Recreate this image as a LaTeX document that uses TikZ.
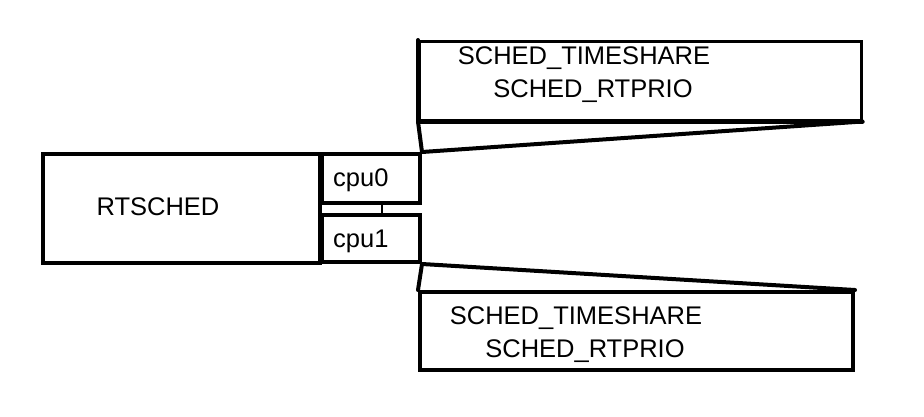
\documentclass[tikz,border=0pt]{standalone}
\usepackage{fontspec}
\setmainfont{Liberation Sans}
\begin{document}
\begin{tikzpicture}[x=1pt,y=-1pt,
  box/.style={draw=black,line width=4pt,inner sep=0pt,line join=miter},
  thinbox/.style={draw=black,line width=2.5pt,inner sep=0pt},
  lbl/.style={inner sep=0pt,font=\fontsize{25.5}{30}\selectfont},
  edge/.style={draw=black,line width=4pt,line cap=round},
  thin/.style={draw=black,line width=2pt}]
\useasboundingbox (0,0) rectangle (924,416);
% boxes
\node[box,minimum width=277pt,minimum height=109pt,anchor=north west] (rt) at (41,152) {};
\node[box,minimum width=98pt,minimum height=49pt,anchor=north west] (cpu0) at (320,152) {};
\node[box,minimum width=98pt,minimum height=47pt,anchor=north west] (cpu1) at (320,213) {};
\node[thinbox,minimum width=442pt,minimum height=79pt,anchor=north west] (up) at (418,40) {};
\node[box,minimum width=433pt,minimum height=78pt,anchor=north west] (lo) at (418,290) {};
% thicker edges
\draw[edge] (up.south west) -- (up.south east);
\draw[edge] (up.north west) -- (up.south west);
% texts
\node[lbl] (trt) at (158,207) {RTSCHED};
\node[lbl,anchor=west] (tc0) at (333,180) {cpu0};
\node[lbl,anchor=west] (tc1) at (333,241) {cpu1};
\node[lbl] (tu1) at (584,58) {SCHED\_TIMESHARE};
\node[lbl] (tu2) at (593,91) {SCHED\_RTPRIO};
\node[lbl] (tl1) at (576,318) {SCHED\_TIMESHARE};
\node[lbl] (tl2) at (585,351) {SCHED\_RTPRIO};
% connectors
\draw[edge] (cpu0.north east) -- (up.south west);
\draw[edge] (cpu0.north east) -- (up.south east);
\draw[edge] (cpu1.south east) -- (lo.north west);
\draw[edge] (cpu1.south east) -- (lo.north east);
\coordinate (m0) at ([xshift=62pt]cpu0.south west);
\coordinate (m1) at ([xshift=62pt]cpu1.north west);
\draw[thin] (m0) -- (m1);
\end{tikzpicture}
\end{document}
